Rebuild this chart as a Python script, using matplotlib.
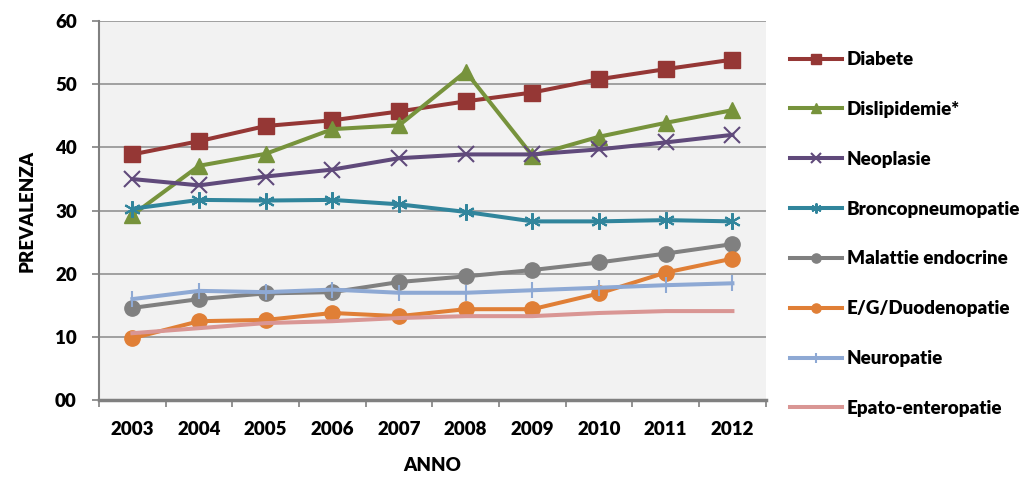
import matplotlib
matplotlib.use("Agg")
import matplotlib.pyplot as plt
import numpy as np

anni = ["2003", "2004", "2005", "2006", "2007", "2008", "2009", "2010", "2011", "2012"]

diabete = [38.9, 41.0, 43.4, 44.3, 45.7, 47.3, 48.7, 50.8, 52.4, 53.9]
dislipidemie = [29.3, 37.1, 39.0, 42.9, 43.5, 52.0, 38.7, 41.7, 43.9, 45.9]
neoplasie = [35.0, 34.0, 35.4, 36.5, 38.3, 38.9, 38.9, 39.7, 40.8, 42.0]
broncopneumopatie = [30.3, 31.7, 31.6, 31.7, 31.0, 29.8, 28.3, 28.3, 28.5, 28.3]
malattie_endocrine = [14.6, 16.0, 16.9, 17.1, 18.7, 19.6, 20.6, 21.8, 23.2, 24.7]
duodenopatie = [9.8, 12.5, 12.7, 13.8, 13.3, 14.4, 14.4, 16.9, 20.2, 22.4]
neuropatie = [16.0, 17.3, 17.1, 17.5, 17.0, 17.0, 17.4, 17.8, 18.2, 18.5]
epato_enteropatie = [10.6, 11.4, 12.2, 12.5, 13.0, 13.3, 13.3, 13.8, 14.1, 14.1]

serie = [
    ("Diabete", diabete, "#953735", "s", 11),
    ("Dislipidemie*", dislipidemie, "#77933C", "^", 12),
    ("Neoplasie", neoplasie, "#604A7B", "x", 11.5),
    ("Broncopneumopatie", broncopneumopatie, "#31859C", (6, 2, 0), 12),
    ("Malattie endocrine", malattie_endocrine, "#808080", "o", 11),
    ("E/G/Duodenopatie", duodenopatie, "#E07F36", "o", 11),
    ("Neuropatie", neuropatie, "#8EA9D4", "|", 12),
    ("Epato-enteropatie", epato_enteropatie, "#D99694", None, 0),
]

plt.rcParams['font.family'] = ['Lato', 'DejaVu Sans']
fs = 13.5

fig = plt.figure(figsize=(10.32, 4.91), dpi=100)
ax = fig.add_axes([0.096, 0.185, 0.646, 0.772])
ax.set_facecolor("#F2F2F2")

x = np.arange(len(anni))
for nome, valori, colore, marker, ms in serie:
    ax.plot(x, valori, color=colore, lw=2.9, marker=marker, markersize=ms,
            markeredgewidth=1.5 if marker in ("x", (6, 2, 0), "|") else 1,
            markeredgecolor=colore, label=nome, zorder=3)

ax.set_xlim(-0.5, len(anni) - 0.5)
ax.set_ylim(0, 60)
ax.set_yticks(range(0, 61, 10))
ax.set_yticklabels(["%02d" % v for v in range(0, 61, 10)])
ax.set_xticks(x)
ax.set_xticklabels(anni)
ax.set_xticks(np.arange(-0.5, len(anni), 1), minor=True)
ax.tick_params(axis="x", which="major", length=0, pad=15)
ax.tick_params(axis="x", which="minor", length=5, color="#808080", width=1.2)
ax.tick_params(axis="y", length=5, color="#808080", width=1.2, pad=11)
for lab in ax.get_xticklabels() + ax.get_yticklabels():
    lab.set_fontweight("heavy")
    lab.set_fontsize(fs)

ax.grid(axis="y", color="#9A9A9A", lw=1.3, zorder=1)
ax.set_axisbelow(True)
for s in ("top", "right"):
    ax.spines[s].set_visible(False)
ax.spines["left"].set_color("#808080")
ax.spines["left"].set_linewidth(1.5)
ax.spines["bottom"].set_color("#808080")
ax.spines["bottom"].set_linewidth(2.5)

ax.set_ylabel("PREVALENZA", fontsize=fs, fontweight="heavy", labelpad=14)
ax.set_xlabel("ANNO", fontsize=fs, fontweight="heavy", labelpad=14)

handles, labels = ax.get_legend_handles_labels()
leg = fig.legend(handles, labels, loc="upper left", bbox_to_anchor=(0.749, 0.93),
                 frameon=False, handlelength=2.8, handletextpad=0.25,
                 labelspacing=1.75, prop={"size": fs, "weight": "heavy"},
                 markerscale=0.6)

fig.savefig("out.png", dpi=100)
